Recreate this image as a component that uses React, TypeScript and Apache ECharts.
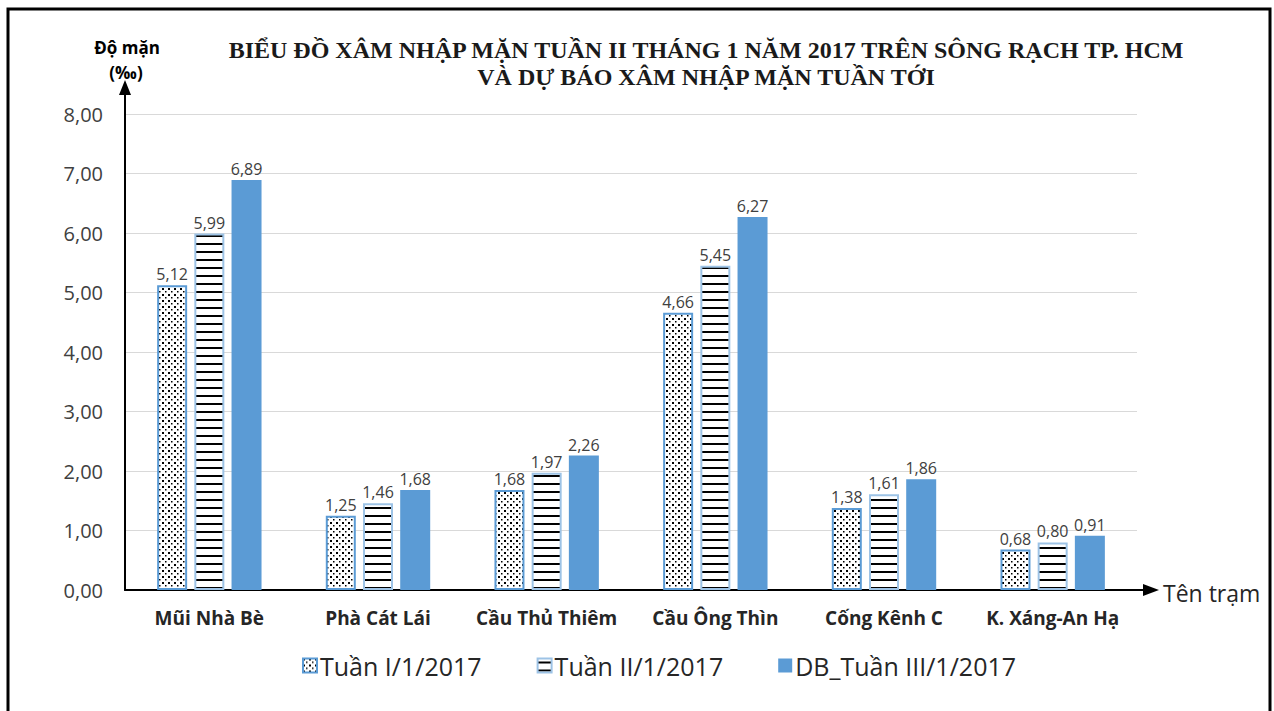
import React, { useEffect, useRef } from "react";
import * as echarts from "echarts";

const categories = ["Mũi Nhà Bè", "Phà Cát Lái", "Cầu Thủ Thiêm", "Cầu Ông Thìn", "Cống Kênh C", "K. Xáng-An Hạ"];
const seriesNames = ["Tuần I/1/2017", "Tuần II/1/2017", "DB_Tuần III/1/2017"];
const week1 = [5.12, 1.25, 1.68, 4.66, 1.38, 0.68];
const week2 = [5.99, 1.46, 1.97, 5.45, 1.61, 0.8];
const forecast3 = [6.89, 1.68, 2.26, 6.27, 1.86, 0.91];
const yTicks = { min: 0, max: 8, interval: 1 };

const FONT = "'Open Sans', 'Liberation Sans', sans-serif";
const SERIF = "'Liberation Serif', 'DejaVu Serif', serif";

function makeDots(): HTMLCanvasElement {
  const c = document.createElement("canvas");
  c.width = 6;
  c.height = 6;
  const g = c.getContext("2d")!;
  g.fillStyle = "#ffffff";
  g.fillRect(0, 0, 6, 6);
  g.fillStyle = "#000000";
  g.fillRect(0, 0, 2, 2);
  g.fillRect(3, 3, 1.5, 1.5);
  return c;
}

function makeLines(): HTMLCanvasElement {
  const c = document.createElement("canvas");
  c.width = 4;
  c.height = 8;
  const g = c.getContext("2d")!;
  g.fillStyle = "#ffffff";
  g.fillRect(0, 0, 4, 8);
  g.fillStyle = "#000000";
  g.fillRect(0, 3, 4, 2);
  return c;
}

const fmt = (v: number) => v.toFixed(2).replace(".", ",");

export default function App() {
  const ref = useRef<HTMLDivElement>(null);
  useEffect(() => {
    if (!ref.current) return;
    const chart = echarts.init(ref.current, undefined, { renderer: "svg" });
    const dots = makeDots();
    const lines = makeLines();
    const label = {
      show: true,
      position: "top",
      distance: 3,
      fontSize: 16,
      color: "#404040",
      fontFamily: FONT,
      formatter: (p: any) => fmt(p.value),
    };
    chart.setOption({
      animation: false,
      backgroundColor: "#ffffff",
      grid: { left: 125, top: 114, width: 1012, height: 476, containLabel: false },
      legend: {
        left: 297,
        top: 648,
        icon: "rect",
        itemWidth: 14,
        itemHeight: 14,
        itemGap: 55,
        textStyle: { fontSize: 25, color: "#262626", fontFamily: FONT, padding: [0, 0, 0, -2] },
        data: seriesNames,
      },
      xAxis: {
        type: "category",
        data: categories,
        axisLine: { lineStyle: { color: "#000000", width: 2 } },
        axisTick: { show: false },
        axisLabel: { interval: 0, fontSize: 19, fontWeight: "bold", color: "#262626", fontFamily: FONT, margin: 18 },
      },
      yAxis: {
        type: "value",
        min: yTicks.min,
        max: yTicks.max,
        interval: yTicks.interval,
        axisLine: { show: true, lineStyle: { color: "#000000", width: 2 } },
        axisTick: { show: false },
        splitLine: { lineStyle: { color: "#d9d9d9", width: 1 } },
        axisLabel: { fontSize: 20, color: "#404040", fontFamily: FONT, margin: 22, formatter: (v: number) => fmt(v) },
      },
      series: [
        {
          name: seriesNames[0],
          type: "bar",
          data: week1,
          barWidth: 30,
          barGap: "24%",
          itemStyle: { color: { image: dots, repeat: "repeat" }, borderColor: "#5b9bd5", borderWidth: 2 },
          label,
        },
        {
          name: seriesNames[1],
          type: "bar",
          data: week2,
          barWidth: 30,
          barGap: "24%",
          itemStyle: { color: { image: lines, repeat: "repeat" }, borderColor: "#9dc3e6", borderWidth: 2 },
          label,
        },
        {
          name: seriesNames[2],
          type: "bar",
          data: forecast3,
          barWidth: 30,
          barGap: "24%",
          itemStyle: { color: "#5b9bd5" },
          label,
        },
      ],
      graphic: [
        { type: "rect", shape: { x: 8, y: 9, width: 1262, height: 720 }, style: { fill: "none", stroke: "#000000", lineWidth: 3 }, silent: true },
        { type: "line", shape: { x1: 125, y1: 115, x2: 125, y2: 92 }, style: { stroke: "#000000", lineWidth: 2 } },
        { type: "polygon", shape: { points: [[119, 95], [131, 95], [125, 80]] }, style: { fill: "#000000" } },
        { type: "line", shape: { x1: 1136, y1: 590, x2: 1146, y2: 590 }, style: { stroke: "#000000", lineWidth: 2 } },
        { type: "polygon", shape: { points: [[1143, 584], [1143, 596], [1159, 590]] }, style: { fill: "#000000" } },
        {
          type: "text",
          x: 1163,
          y: 593,
          style: { text: "Tên trạm", fontSize: 23, fill: "#262626", fontFamily: FONT, verticalAlign: "middle", textAlign: "left" },
        },
        {
          type: "text",
          x: 127,
          y: 47,
          style: { text: "Độ mặn", fontSize: 17, fontWeight: "bold", fill: "#000000", fontFamily: FONT, verticalAlign: "middle", textAlign: "center" },
        },
        {
          type: "text",
          x: 126,
          y: 72,
          style: { text: "(‰)", fontSize: 17, fontWeight: "bold", fill: "#000000", fontFamily: FONT, verticalAlign: "middle", textAlign: "center" },
        },
        {
          type: "text",
          x: 706,
          y: 50,
          style: {
            text: "BIỂU ĐỒ XÂM NHẬP MẶN TUẦN II THÁNG 1 NĂM 2017 TRÊN SÔNG RẠCH TP. HCM",
            fontSize: 24,
            fontWeight: "bold",
            fill: "#1a1a1a",
            fontFamily: SERIF,
            verticalAlign: "middle",
            textAlign: "center",
          },
        },
        {
          type: "text",
          x: 706,
          y: 77,
          style: {
            text: "VÀ DỰ BÁO XÂM NHẬP MẶN TUẦN TỚI",
            fontSize: 24,
            fontWeight: "bold",
            fill: "#1a1a1a",
            fontFamily: SERIF,
            verticalAlign: "middle",
            textAlign: "center",
          },
        },
      ],
    });
    return () => chart.dispose();
  }, []);
  return <div ref={ref} style={{ position: "absolute", left: 0, top: 0, width: 1274, height: 711 }} />;
}
